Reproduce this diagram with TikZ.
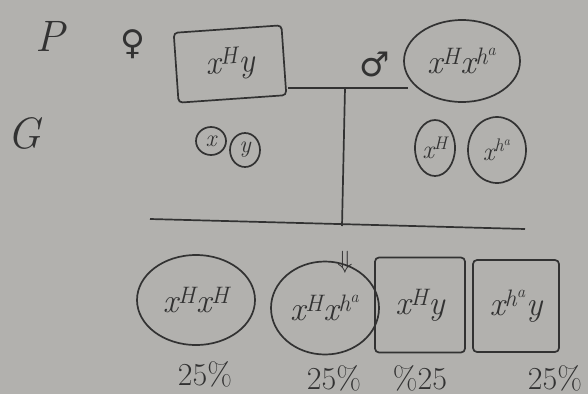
\documentclass[tikz,border=0pt]{standalone}
\usepackage{fontspec}
\usetikzlibrary{shapes.geometric}
\newfontfamily\symfont{DejaVu Sans}
\definecolor{bg}{RGB}{178,177,174}
\definecolor{pen}{RGB}{50,50,50}
\newcommand{\supr}[1]{\textsuperscript{#1}}
\begin{document}
\begin{tikzpicture}[x=1pt,y=-1pt,
  pencil/.style={draw=pen, line width=1.7pt},
  big/.style={text=pen, font=\itshape\fontsize{34}{36}\selectfont},
  mid/.style={text=pen, font=\itshape\fontsize{26}{28}\selectfont},
  small/.style={text=pen, font=\itshape\fontsize{24}{26}\selectfont},
  pct/.style={text=pen, font=\fontsize{32}{34}\selectfont},
  lab/.style={text=pen, font=\itshape\fontsize{44}{46}\selectfont},
  box/.style={pencil, rectangle, rounded corners=4pt, inner sep=0pt},
  oval/.style={pencil, ellipse, inner sep=0pt}]
\fill[bg] (0,0) rectangle (588,394);
\useasboundingbox (0,0) rectangle (588,394);
% labels
\node[lab] (P) at (50,36) {P};
\node[lab] (G) at (24,133) {G};
\node[text=pen, font=\symfont\fontsize{34}{36}\selectfont] (fem) at (133,44) {♀};
\node[text=pen, font=\symfont\fontsize{34}{36}\selectfont] (mal) at (375,64) {♂};
% parents
\node[box, big, minimum width=108, minimum height=70, rotate=4] (fbox) at (230,64) {x\supr{H}y};
\node[oval, big, minimum width=116, minimum height=82] (mell) at (462,61) {x\supr{H}x\supr{h\supr{a}}};
% cross lines
\coordinate (hl) at (288,88);
\coordinate (hr) at (408,88);
\coordinate (vt) at (345,88);
\coordinate (vb) at (342,226);
\coordinate (ll) at (150,219);
\coordinate (lr) at (525,229);
\draw[pencil] (hl) -- (hr);
\draw[pencil] (vt) -- (vb);
\draw[pencil] (ll) -- (lr);
% gametes
\node[oval, small, minimum width=30, minimum height=28] (g1) at (211,141) {x};
\node[oval, small, minimum width=30, minimum height=34] (g2) at (245,150) {y};
\node[oval, mid, minimum width=40, minimum height=56] (g3) at (435,148) {x\supr{H}};
\node[oval, mid, minimum width=58, minimum height=66] (g4) at (497,150) {x\supr{h\supr{a}}};
% arrow
\node[text=pen, font=\fontsize{34}{36}\selectfont] (arr) at (345,262) {$\Downarrow$};
% offspring
\node[oval, big, minimum width=118, minimum height=90] (o1) at (196,300) {x\supr{H}x\supr{H}};
\node[oval, big, minimum width=108, minimum height=93] (o2) at (325,308) {x\supr{H}x\supr{h\supr{a}}};
\node[box, big, minimum width=90, minimum height=95] (o3) at (420,305) {x\supr{H}y};
\node[box, big, minimum width=86, minimum height=92] (o4) at (516,306) {x\supr{h\supr{a}}y};
% percentages
\node[pct] (p1) at (205,374) {25\%};
\node[pct] (p2) at (334,378) {25\%};
\node[pct] (p3) at (420,378) {\%25};
\node[pct] (p4) at (555,378) {25\%};
\end{tikzpicture}
\end{document}
